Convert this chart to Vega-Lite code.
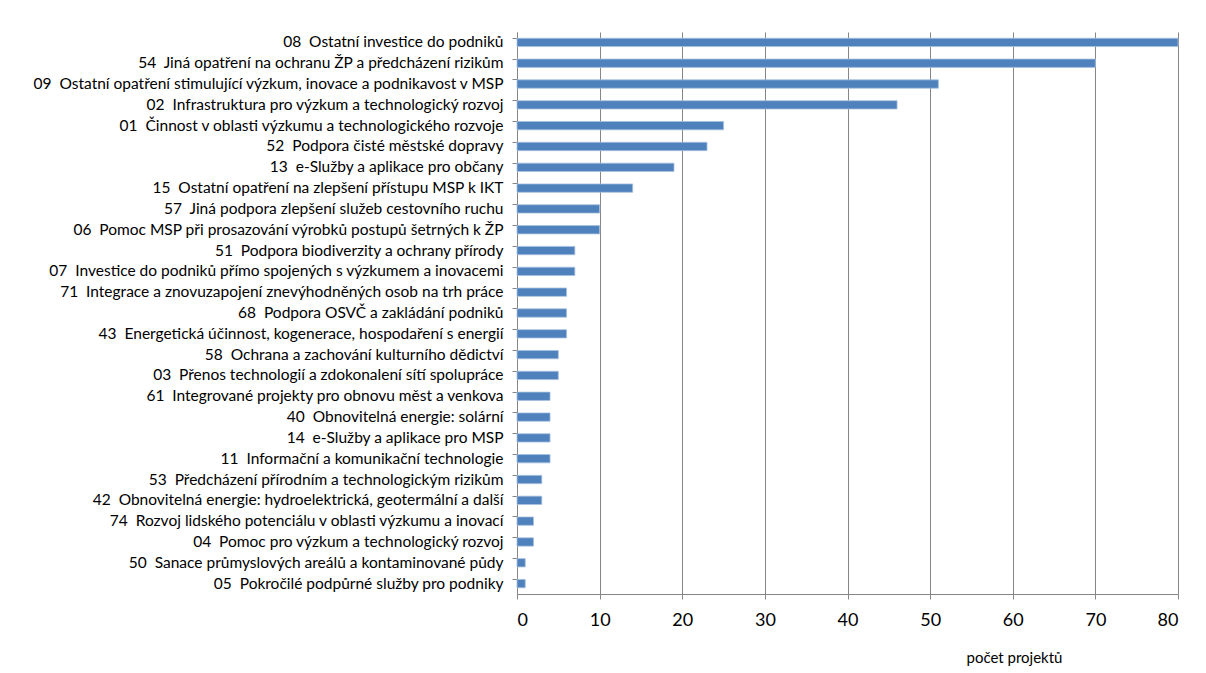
{
  "$schema": "https://vega.github.io/schema/vega-lite/v6.json",
  "autosize": {"type": "none"},
  "padding": {"left": 517, "top": 32, "right": 28, "bottom": 79},
  "width": 661,
  "height": 562,
  "background": "white",
  "config": {
    "view": {"stroke": null},
    "font": "Lato"
  },
  "data": {
    "values": [
      {"kat": "08\u00a0 Ostatní investice do podniků", "n": 80},
      {"kat": "54\u00a0 Jiná opatření na ochranu ŽP a předcházení rizikům", "n": 70},
      {"kat": "09\u00a0 Ostatní opatření stimulující výzkum, inovace a podnikavost v MSP", "n": 51},
      {"kat": "02\u00a0 Infrastruktura pro výzkum a technologický rozvoj", "n": 46},
      {"kat": "01\u00a0 Činnost v oblasti výzkumu a technologického rozvoje", "n": 25},
      {"kat": "52\u00a0 Podpora čisté městské dopravy", "n": 23},
      {"kat": "13\u00a0 e-Služby a aplikace pro občany", "n": 19},
      {"kat": "15\u00a0 Ostatní opatření na zlepšení přístupu MSP k IKT", "n": 14},
      {"kat": "57\u00a0 Jiná podpora zlepšení služeb cestovního ruchu", "n": 10},
      {"kat": "06\u00a0 Pomoc MSP při prosazování výrobků postupů šetrných k ŽP", "n": 10},
      {"kat": "51\u00a0 Podpora biodiverzity a ochrany přírody", "n": 7},
      {"kat": "07\u00a0 Investice do podniků přímo spojených s výzkumem a inovacemi", "n": 7},
      {"kat": "71\u00a0 Integrace a znovuzapojení znevýhodněných osob na trh práce", "n": 6},
      {"kat": "68\u00a0 Podpora OSVČ a zakládání podniků", "n": 6},
      {"kat": "43\u00a0 Energetická účinnost, kogenerace, hospodaření s energií", "n": 6},
      {"kat": "58\u00a0 Ochrana a zachování kulturního dědictví", "n": 5},
      {"kat": "03\u00a0 Přenos technologií a zdokonalení sítí spolupráce", "n": 5},
      {"kat": "61\u00a0 Integrované projekty pro obnovu měst a venkova", "n": 4},
      {"kat": "40\u00a0 Obnovitelná energie: solární", "n": 4},
      {"kat": "14\u00a0 e-Služby a aplikace pro MSP", "n": 4},
      {"kat": "11\u00a0 Informační a komunikační technologie", "n": 4},
      {"kat": "53\u00a0 Předcházení přírodním a technologickým rizikům", "n": 3},
      {"kat": "42\u00a0 Obnovitelná energie: hydroelektrická, geotermální a další", "n": 3},
      {"kat": "74\u00a0 Rozvoj lidského potenciálu v oblasti výzkumu a inovací", "n": 2},
      {"kat": "04\u00a0 Pomoc pro výzkum a technologický rozvoj", "n": 2},
      {"kat": "50\u00a0 Sanace průmyslových areálů a kontaminované půdy", "n": 1},
      {"kat": "05\u00a0 Pokročilé podpůrné služby pro podniky", "n": 1}
    ]
  },
  "mark": {"type": "bar", "color": "#4F81BD", "stroke": "#A7C0DE", "strokeWidth": 0.8},
  "encoding": {
    "y": {
      "field": "kat",
      "type": "nominal",
      "sort": null,
      "scale": {"paddingInner": 0.6, "paddingOuter": 0.3},
      "axis": {
        "title": null,
        "bandPosition": 0,
        "domainColor": "#868686",
        "tickColor": "#868686",
        "tickSize": 5,
        "labelPadding": 9,
        "labelFontSize": 15.5,
        "labelColor": "#000000",
        "labelLimit": 600,
        "grid": false
      }
    },
    "x": {
      "field": "n",
      "type": "quantitative",
      "scale": {"domain": [0, 80], "nice": false},
      "axis": {
        "title": "počet projektů",
        "values": [0, 10, 20, 30, 40, 50, 60, 70, 80],
        "grid": true,
        "gridColor": "#868686",
        "gridWidth": 1,
        "domainColor": "#868686",
        "tickColor": "#868686",
        "tickSize": 5,
        "labelFontSize": 18,
        "labelColor": "#000000",
        "labelPadding": 12,
        "titleFontSize": 15,
        "titleFontWeight": "normal",
        "titleColor": "#000000",
        "titleX": 497,
        "titleY": 63,
        "titleAlign": "center",
        "titleBaseline": "middle"
      }
    }
  }
}
